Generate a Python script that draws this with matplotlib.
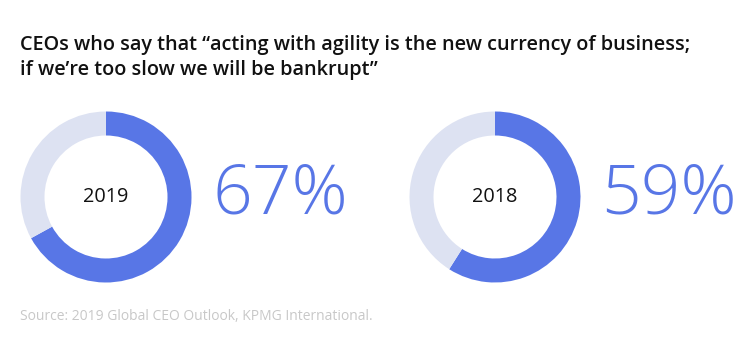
import matplotlib.pyplot as plt

years = ["2019", "2018"]
shares = [67, 59]
title = ("CEOs who say that \u201cacting with agility is the new currency of business;\n"
         "if we\u2019re too slow we will be bankrupt\u201d")
source = "Source: 2019 Global CEO Outlook, KPMG International."

BLUE = "#5876E6"
LIGHT = "#DDE2F2"
W, H = 750, 353

plt.rcParams["font.family"] = ["Open Sans", "DejaVu Sans"]

fig = plt.figure(figsize=(W / 100, H / 100), dpi=100)

centers_x = [106, 495]
cy = 197
r = 85.5

for year, share, cx in zip(years, shares, centers_x):
    ax = fig.add_axes([(cx - r) / W, (H - cy - r) / H, 2 * r / W, 2 * r / H])
    ax.pie([share, 100 - share], colors=[BLUE, LIGHT], startangle=90,
           counterclock=False, radius=1,
           wedgeprops=dict(width=24 / r, edgecolor="none"))
    ax.set_xlim(-1, 1)
    ax.set_ylim(-1, 1)
    ax.set_aspect("equal")
    ax.axis("off")
    ax.text(0, 0, year, ha="center", va="center", fontsize=14.3, color="#111111")
    fig.text((cx + r + 21) / W, (H - cy + 2) / H, f"{share}%", ha="left", va="center",
             fontsize=50, fontweight="light", color=BLUE)

fig.text(20 / W, 1 - 35 / H, title, ha="left", va="top", fontsize=14.3,
         fontweight="semibold", color="#111111", linespacing=1.35)
fig.text(20 / W, 1 - 317 / H, source, ha="left", va="center", fontsize=10,
         color="#C8C8C8")

fig.savefig("out.png", dpi=100)
